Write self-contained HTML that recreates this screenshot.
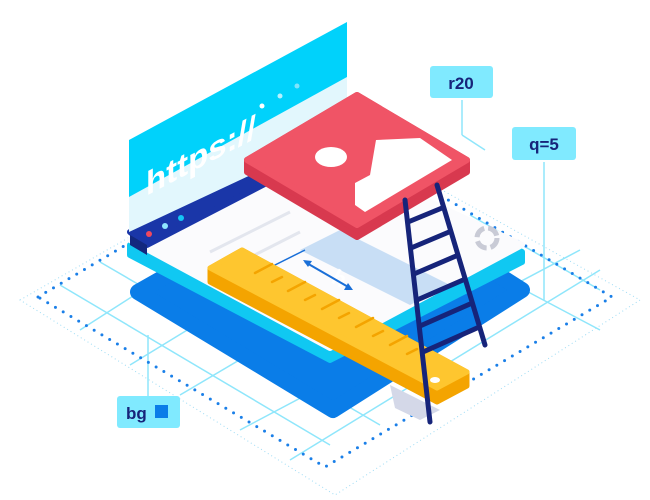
<!DOCTYPE html>
<html><head><meta charset="utf-8"><style>
html,body{margin:0;padding:0;background:#fff;}
svg{display:block}
</style></head><body>
<svg width="650" height="500" viewBox="0 0 650 500" xmlns="http://www.w3.org/2000/svg" font-family="Liberation Sans, sans-serif">
<rect width="650" height="500" fill="#fff"/>
<polygon points="20,300 325,125 640,300 335,495" fill="none" stroke="#9fdcf5" stroke-width="1" stroke-dasharray="1 3"/>
<g stroke="#8fe6fb" stroke-width="1.5" fill="none">
<line x1="60" y1="285" x2="330" y2="445"/>
<line x1="100" y1="262" x2="380" y2="425"/>
<line x1="80" y1="330" x2="330" y2="170"/>
<line x1="130" y1="365" x2="400" y2="200"/>
<line x1="180" y1="395" x2="460" y2="230"/>
<line x1="240" y1="430" x2="580" y2="250"/>
<line x1="290" y1="460" x2="600" y2="270"/>
<line x1="430" y1="240" x2="600" y2="330"/>
<line x1="470" y1="215" x2="600" y2="290"/>
<line x1="148" y1="335" x2="148" y2="398"/>
<line x1="462" y1="100" x2="462" y2="135"/><line x1="462" y1="135" x2="485" y2="150"/>
<line x1="544" y1="162" x2="544" y2="300"/>
</g>
<polygon points="38,297 325,127 612,297 325,467" fill="none" stroke="#1a7fe8" stroke-width="3" stroke-linecap="round" stroke-dasharray="0 9"/>
<polygon points="138,292 342,176 522,290 333,410" fill="#0a7de8" stroke="#0a7de8" stroke-width="16" stroke-linejoin="round"/>
<polygon points="130,245 312,150 522,252 522,262 330,360 130,255" fill="#10c8f2" stroke="#10c8f2" stroke-width="6" stroke-linejoin="round"/>
<polygon points="130,240 312,147 522,245 330,348" fill="#fbfbfd" stroke="#fbfbfd" stroke-width="6" stroke-linejoin="round"/>
<polygon points="130,232 312,140 330,150 147,245" fill="#1a36a8" stroke="#1a36a8" stroke-width="6" stroke-linejoin="round"/>
<polygon points="130,235 147,245 147,255 130,245" fill="#13287e"/>
<circle cx="149" cy="234" r="3" fill="#f0485e"/>
<circle cx="165" cy="226" r="3" fill="#8fe6ff"/>
<circle cx="181" cy="218" r="3" fill="#14c6f4"/>
<line x1="210" y1="252" x2="290" y2="212" stroke="#e3e6ee" stroke-width="3"/>
<line x1="235" y1="265" x2="300" y2="232" stroke="#e3e6ee" stroke-width="3"/>
<polygon points="300,250 340,230 450,285 410,305" fill="#c8def5"/>
<text x="330" y="282" fill="#fff" font-size="22" font-weight="bold" transform="rotate(28 330 282)">h</text>
<line x1="305" y1="262" x2="350" y2="288" stroke="#1a6fd8" stroke-width="2"/>
<polygon points="303,260 312,261 308,267" fill="#1a6fd8"/>
<polygon points="353,290 344,290 348,283" fill="#1a6fd8"/>
<line x1="265" y1="270" x2="305" y2="250" stroke="#1a6fd8" stroke-width="1.5"/>
<circle cx="487" cy="238" r="10" fill="none" stroke="#c9cbd6" stroke-width="5" stroke-dasharray="12 4"/>
<polygon points="129,197 347,77 347,130 129,232" fill="#e2f7fd"/>
<polygon points="129,140 347,22 347,77 129,197" fill="#00d2fb"/>
<text x="0" y="0" fill="#fff" font-size="33" font-weight="bold" transform="translate(146,196) skewY(-28)">https://</text>
<circle cx="262" cy="106" r="2.5" fill="#fff"/>
<circle cx="280" cy="96" r="2.5" fill="#b6f1ff"/>
<circle cx="297" cy="86" r="2.5" fill="#7fe4fb"/>
<polygon points="247,160 357,95 467,160 467,172 357,237 247,172" fill="#d8394f" stroke="#d8394f" stroke-width="6" stroke-linejoin="round"/>
<polygon points="247,160 357,95 467,160 357,225" fill="#f05466" stroke="#f05466" stroke-width="6" stroke-linejoin="round"/>
<ellipse cx="331" cy="157" rx="16" ry="10" fill="#fff"/>
<polygon points="376,140 420,138 452,160 365,212 355,205 355,183 370,175" fill="#fff"/>
<polygon points="390,385 440,410 420,420 395,408" fill="#d4d8e8"/>
<polygon points="210,268 242,250 467,372 467,386 437,402 210,282" fill="#f4a400" stroke="#f4a400" stroke-width="5" stroke-linejoin="round"/>
<polygon points="210,268 242,250 467,372 437,388" fill="#fec62f" stroke="#fec62f" stroke-width="5" stroke-linejoin="round"/>
<g stroke="#f4a400" stroke-width="2.5" stroke-linecap="round">
<line x1="255" y1="273" x2="272" y2="264"/><line x1="272" y1="282" x2="282" y2="277"/>
<line x1="288" y1="291" x2="305" y2="282"/><line x1="305" y1="300" x2="315" y2="295"/>
<line x1="322" y1="309" x2="339" y2="300"/><line x1="339" y1="318" x2="349" y2="313"/>
<line x1="356" y1="327" x2="373" y2="318"/><line x1="373" y1="336" x2="383" y2="331"/>
<line x1="390" y1="345" x2="407" y2="336"/><line x1="407" y1="354" x2="417" y2="349"/>
</g>
<ellipse cx="435" cy="380" rx="5" ry="3" fill="#fff"/>
<g stroke="#16247a" stroke-width="5" stroke-linecap="round">
<line x1="405" y1="200" x2="430" y2="422"/>
<line x1="437" y1="185" x2="485" y2="345"/>
<line x1="408" y1="222" x2="442" y2="208"/>
<line x1="411" y1="248" x2="449" y2="232"/>
<line x1="414" y1="274" x2="456" y2="256"/>
<line x1="417" y1="300" x2="463" y2="280"/>
<line x1="420" y1="326" x2="470" y2="304"/>
<line x1="423" y1="352" x2="477" y2="328"/>
</g>
<rect x="430" y="66" width="63" height="32" rx="3" fill="#80eaff"/>
<text x="461" y="89" text-anchor="middle" fill="#16247a" font-size="17" font-weight="bold">r20</text>
<rect x="512" y="127" width="64" height="33" rx="3" fill="#80eaff"/>
<text x="544" y="150" text-anchor="middle" fill="#16247a" font-size="17" font-weight="bold">q=5</text>
<rect x="117" y="396" width="63" height="32" rx="3" fill="#80eaff"/>
<text x="126" y="419" fill="#16247a" font-size="17" font-weight="bold">bg</text>
<rect x="155" y="405" width="13" height="13" fill="#0a7de8"/>
</svg>
</body></html>
